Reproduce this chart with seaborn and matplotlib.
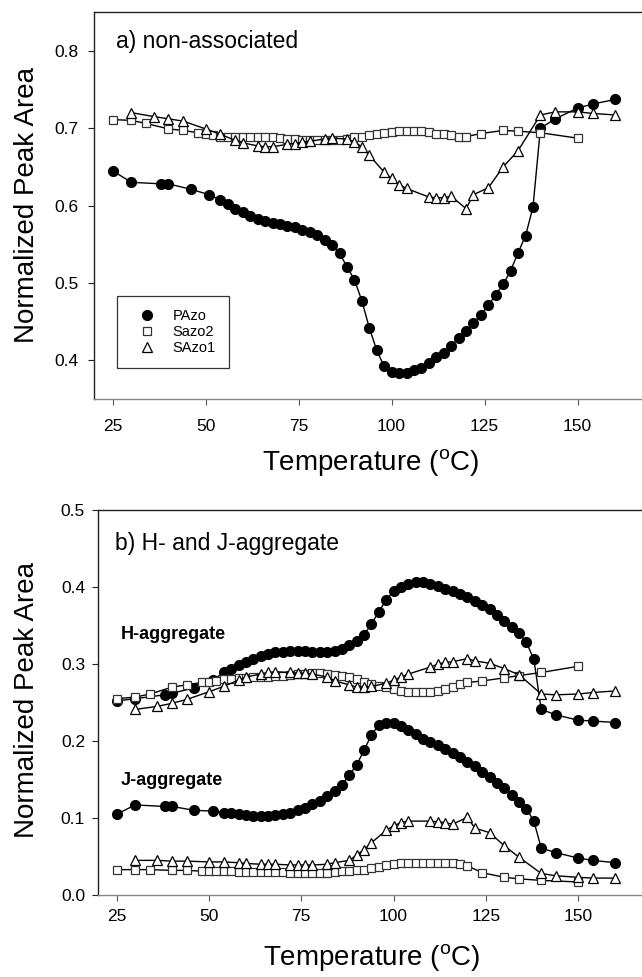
import matplotlib
matplotlib.use("Agg")
import matplotlib.pyplot as plt
from matplotlib.lines import Line2D
import seaborn as sns

# temperatures (deg C) of each measured series
t_pazo = [25, 30, 38, 40, 46, 51, 54, 56, 58, 60, 62, 64, 66, 68, 70, 72, 74, 76, 78, 80,
          82, 84, 86, 88, 90, 92, 94, 96, 98, 100, 102, 104, 106, 108, 110, 112, 114, 116,
          118, 120, 122, 124, 126, 128, 130, 132, 134, 136, 138, 140, 144, 150, 154, 160]
t_sazo2 = [25, 30, 34, 40, 44, 48, 50, 52, 54, 56, 58, 60, 62, 64, 66, 68, 70, 72, 74, 76,
           78, 80, 82, 84, 86, 88, 90, 92, 94, 96, 98, 100, 102, 104, 106, 108, 110, 112,
           114, 116, 118, 120, 124, 130, 134, 140, 150]
t_sazo1 = [30, 36, 40, 44, 50, 54, 58, 60, 64, 66, 68, 72, 74, 76, 78, 82, 84, 88, 90, 92,
           94, 98, 100, 102, 104, 110, 112, 114, 116, 120, 122, 126, 130, 134, 140, 144, 150,
           154, 160]

# a) non-associated
pazo_non = [0.645, 0.630, 0.628, 0.628, 0.621, 0.614, 0.607, 0.602, 0.596, 0.591, 0.586, 0.583,
            0.580, 0.578, 0.576, 0.574, 0.572, 0.569, 0.566, 0.562, 0.556, 0.549, 0.538, 0.521,
            0.504, 0.477, 0.442, 0.413, 0.392, 0.385, 0.383, 0.383, 0.388, 0.390, 0.397, 0.404,
            0.410, 0.419, 0.429, 0.438, 0.448, 0.459, 0.471, 0.485, 0.498, 0.516, 0.539, 0.561,
            0.598, 0.700, 0.712, 0.726, 0.731, 0.737]
sazo2_non = [0.711, 0.710, 0.706, 0.699, 0.697, 0.694, 0.692, 0.691, 0.689, 0.688, 0.688, 0.688,
             0.688, 0.688, 0.688, 0.688, 0.687, 0.686, 0.686, 0.685, 0.684, 0.684, 0.684, 0.684,
             0.684, 0.686, 0.688, 0.689, 0.691, 0.692, 0.694, 0.695, 0.696, 0.696, 0.696, 0.696,
             0.695, 0.693, 0.692, 0.691, 0.689, 0.689, 0.693, 0.697, 0.696, 0.694, 0.687]
sazo1_non = [0.720, 0.715, 0.712, 0.709, 0.699, 0.692, 0.684, 0.681, 0.677, 0.676, 0.676, 0.679,
             0.680, 0.682, 0.683, 0.686, 0.687, 0.686, 0.682, 0.676, 0.665, 0.643, 0.635, 0.627,
             0.622, 0.611, 0.610, 0.610, 0.612, 0.596, 0.614, 0.623, 0.650, 0.671, 0.717, 0.721,
             0.721, 0.719, 0.717]

# b) H-aggregate
pazo_h = [0.252, 0.255, 0.260, 0.262, 0.269, 0.279, 0.289, 0.294, 0.299, 0.303, 0.307, 0.311,
          0.313, 0.315, 0.316, 0.317, 0.317, 0.317, 0.316, 0.316, 0.316, 0.317, 0.320, 0.325,
          0.330, 0.338, 0.352, 0.368, 0.383, 0.395, 0.400, 0.404, 0.406, 0.406, 0.404, 0.401,
          0.398, 0.395, 0.391, 0.387, 0.382, 0.377, 0.371, 0.364, 0.356, 0.348, 0.340, 0.328,
          0.306, 0.241, 0.234, 0.227, 0.226, 0.224]
sazo2_h = [0.255, 0.257, 0.261, 0.270, 0.273, 0.276, 0.277, 0.278, 0.280, 0.281, 0.282, 0.282,
           0.283, 0.283, 0.283, 0.284, 0.285, 0.286, 0.287, 0.287, 0.288, 0.288, 0.287, 0.286,
           0.284, 0.283, 0.280, 0.277, 0.274, 0.272, 0.270, 0.268, 0.265, 0.264, 0.264, 0.264,
           0.264, 0.265, 0.267, 0.270, 0.274, 0.276, 0.278, 0.282, 0.285, 0.289, 0.297]
sazo1_h = [0.241, 0.245, 0.249, 0.254, 0.264, 0.271, 0.279, 0.283, 0.287, 0.289, 0.290, 0.289,
           0.288, 0.288, 0.287, 0.283, 0.278, 0.273, 0.270, 0.270, 0.271, 0.275, 0.279, 0.283,
           0.287, 0.296, 0.300, 0.302, 0.303, 0.307, 0.304, 0.301, 0.294, 0.286, 0.261, 0.260,
           0.261, 0.263, 0.265]

# b) J-aggregate
pazo_j = [0.105, 0.117, 0.115, 0.115, 0.110, 0.109, 0.107, 0.106, 0.105, 0.104, 0.103, 0.103,
          0.103, 0.104, 0.105, 0.107, 0.110, 0.113, 0.118, 0.122, 0.129, 0.135, 0.143, 0.156,
          0.169, 0.188, 0.208, 0.221, 0.224, 0.223, 0.219, 0.214, 0.209, 0.203, 0.199, 0.195,
          0.190, 0.184, 0.179, 0.173, 0.167, 0.160, 0.153, 0.146, 0.139, 0.130, 0.121, 0.112,
          0.096, 0.061, 0.055, 0.048, 0.045, 0.042]
sazo2_j = [0.033, 0.033, 0.033, 0.032, 0.032, 0.031, 0.031, 0.031, 0.031, 0.031, 0.030, 0.030,
           0.030, 0.030, 0.030, 0.030, 0.030, 0.029, 0.029, 0.029, 0.029, 0.029, 0.029, 0.030,
           0.031, 0.031, 0.032, 0.033, 0.035, 0.037, 0.039, 0.040, 0.041, 0.042, 0.042, 0.042,
           0.042, 0.042, 0.042, 0.041, 0.040, 0.038, 0.029, 0.023, 0.021, 0.019, 0.017]
sazo1_j = [0.045, 0.045, 0.044, 0.044, 0.043, 0.043, 0.042, 0.041, 0.040, 0.040, 0.040, 0.039,
           0.039, 0.039, 0.039, 0.040, 0.042, 0.045, 0.052, 0.059, 0.068, 0.084, 0.090, 0.094,
           0.096, 0.096, 0.095, 0.094, 0.092, 0.101, 0.087, 0.081, 0.064, 0.049, 0.028, 0.025,
           0.023, 0.022, 0.022]

labels = ["PAzo", "Sazo2", "SAzo1"]
x_ticks = [25, 50, 75, 100, 125, 150]

sns.set_style("ticks")
plt.rcParams['font.family'] = ['Liberation Sans', 'DejaVu Sans']
plt.rcParams['mathtext.default'] = 'regular'
plt.rcParams['text.color'] = 'black'
plt.rcParams['axes.labelcolor'] = 'black'
plt.rcParams['xtick.labelcolor'] = 'black'
plt.rcParams['ytick.labelcolor'] = 'black'

# marker styles per compound
STYLE = {
    "PAzo": dict(marker="o", markersize=7.2, markerfacecolor="black", markeredgecolor="black",
                 markeredgewidth=0.8),
    "Sazo2": dict(marker="s", markersize=5.9, markerfacecolor="white", markeredgecolor="#333333",
                  markeredgewidth=0.9),
    "SAzo1": dict(marker="^", markersize=6.6, markerfacecolor="white", markeredgecolor="black",
                  markeredgewidth=0.9),
}


def draw(ax, x, y, name, z):
    sns.lineplot(x=x, y=y, ax=ax, color="black", linewidth=1.0, estimator=None,
                 sort=False, zorder=z, **STYLE[name])


def style_axis(ax, ylim, yticks, xpad, ypad):
    ax.set_xlim(20, 167.3)
    ax.set_ylim(*ylim)
    ax.set_xticks(x_ticks)
    ax.set_yticks(yticks)
    ax.set_yticklabels([f"{v:.1f}" for v in yticks])
    ax.tick_params(axis="x", direction="out", length=4, width=0.8, labelsize=12.5, pad=xpad,
                   color="#555555", labelcolor="black")
    ax.tick_params(axis="y", direction="out", length=4, width=0.8, labelsize=12.5, pad=ypad,
                   color="#222222", labelcolor="black")
    ax.spines["right"].set_visible(False)
    ax.spines["left"].set_color("#222222")
    ax.spines["top"].set_color("#222222")
    ax.spines["bottom"].set_color("#888888")
    for s in ax.spines.values():
        s.set_linewidth(1.0)
    ax.set_xlabel("Temperature ($^{o}$C)", fontsize=20, color="black")
    ax.set_ylabel("Normalized Peak Area", fontsize=20, color="black")


fig = plt.figure(figsize=(6.42, 9.77), dpi=100)
ax1 = fig.add_axes([0.1464, 0.5916, 0.8536, 0.3961])
ax2 = fig.add_axes([0.1531, 0.0839, 0.8469, 0.3941])

# panel a
draw(ax1, t_pazo, pazo_non, "PAzo", 3)
draw(ax1, t_sazo2, sazo2_non, "Sazo2", 4)
draw(ax1, t_sazo1, sazo1_non, "SAzo1", 5)
style_axis(ax1, (0.35, 0.85), [0.4, 0.5, 0.6, 0.7, 0.8], 10.5, 7)
ax1.xaxis.set_label_coords(0.504, -0.125)
ax1.yaxis.set_label_coords(-0.099, 0.501)
ax1.text(0.040, 0.925, "a) non-associated", transform=ax1.transAxes, fontsize=16.5,
         va="center", ha="left")

handles = [Line2D([], [], linestyle="none", color="black", **STYLE[n]) for n in labels]
leg = ax1.legend(handles, labels, loc="lower left", bbox_to_anchor=(0.0425, 0.079),
                 borderaxespad=0, fontsize=10.5, frameon=True, fancybox=False,
                 borderpad=0.9, labelspacing=0.15, handlelength=2.25, handletextpad=0.66)
leg.get_frame().set_edgecolor("black")
leg.get_frame().set_linewidth(0.9)
for txt in leg.get_texts():
    txt.set_color("black")

# panel b
draw(ax2, t_pazo, pazo_h, "PAzo", 3)
draw(ax2, t_pazo, pazo_j, "PAzo", 3)
draw(ax2, t_sazo2, sazo2_h, "Sazo2", 4)
draw(ax2, t_sazo2, sazo2_j, "Sazo2", 4)
draw(ax2, t_sazo1, sazo1_h, "SAzo1", 5)
draw(ax2, t_sazo1, sazo1_j, "SAzo1", 5)
style_axis(ax2, (0.0, 0.5), [0.0, 0.1, 0.2, 0.3, 0.4, 0.5], 6, 5.5)
ax2.xaxis.set_label_coords(0.503, -0.123)
ax2.yaxis.set_label_coords(-0.107, 0.506)
ax2.text(0.031, 0.912, "b) H- and J-aggregate", transform=ax2.transAxes, fontsize=16.5,
         va="center", ha="left")
ax2.text(26.0, 0.338, "H-aggregate", fontsize=13, fontweight="bold", va="center", ha="left")
ax2.text(26.0, 0.149, "J-aggregate", fontsize=13, fontweight="bold", va="center", ha="left")

if ax2.get_legend() is not None:
    ax2.get_legend().remove()

fig.savefig("out.png", dpi=100)
